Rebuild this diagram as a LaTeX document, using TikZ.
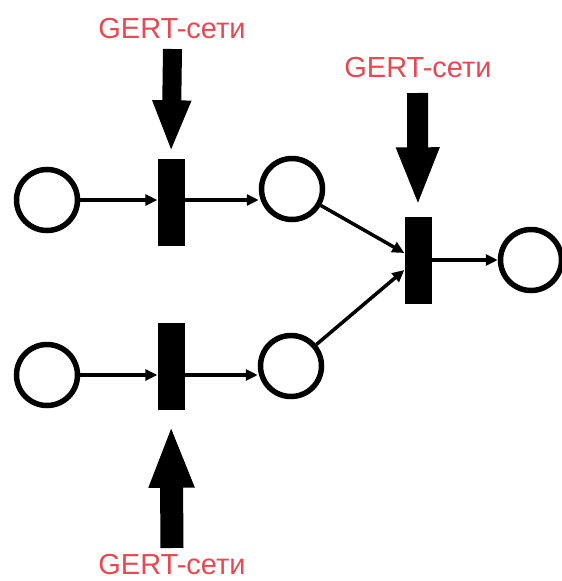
\documentclass[tikz,border=0pt]{standalone}
\usepackage{fontspec}
\setmainfont{Liberation Sans}
\usetikzlibrary{arrows.meta}
\definecolor{gertred}{RGB}{232,72,82}
\tikzset{
  place/.style={circle,draw=black,line width=5.5pt,minimum size=61pt,inner sep=0pt},
  trans/.style={rectangle,fill=black,minimum width=27pt,minimum height=87pt,inner sep=0pt},
  arc/.style={line width=3.5pt,-{Triangle[length=12pt,width=11pt]}},
  lbl/.style={text=gertred,font=\fontsize{29}{31}\selectfont,inner sep=0pt},
}
\begin{document}
\begin{tikzpicture}[x=1pt,y=-1pt]
\useasboundingbox (0,0) rectangle (562,581);
\node[place] (c1) at (47,200) {};
\node[place] (c2) at (292,189) {};
\node[place] (c3) at (47,375) {};
\node[place] (c4) at (291,366) {};
\node[place] (c5) at (531,260) {};
\node[trans] (b1) at (171,202) {};
\node[trans] (b2) at (171,366) {};
\node[trans] (b3) at (418,260) {};
\node[lbl] (t1) at (172,29) {GERT-сети};
\node[lbl] (t2) at (418,68) {GERT-сети};
\node[lbl] (t3) at (172,565) {GERT-сети};
\coordinate (s1) at (172.5,49);
\coordinate (s2) at (417.5,93);
\coordinate (s3) at (172,548);
% thin arcs
\draw[arc] (c1) -- (b1.west |- c1);
\draw[arc] (b1.east |- c1) -- (c2.west |- c1);
\draw[arc] (c3) -- (b2.west |- c3);
\draw[arc] (b2.east |- c3) -- (c4.west |- c3);
\draw[arc] (c2) -- ([yshift=7pt]b3.west);
\draw[arc] (c4) -- ([yshift=-10pt]b3.west);
\draw[arc] (b3.east) -- (c5);
% thick arrows
\draw[line width=19pt,-{Triangle[length=52pt,width=35pt]},shorten >=6pt] (s1) -- (b1.north);
\draw[line width=21pt,-{Triangle[length=59pt,width=39pt]},shorten >=10pt] (s2) -- (b3.north);
\draw[line width=23pt,-{Triangle[length=63pt,width=41pt]},shorten >=15pt] (s3) -- (b2.south);
\end{tikzpicture}
\end{document}
